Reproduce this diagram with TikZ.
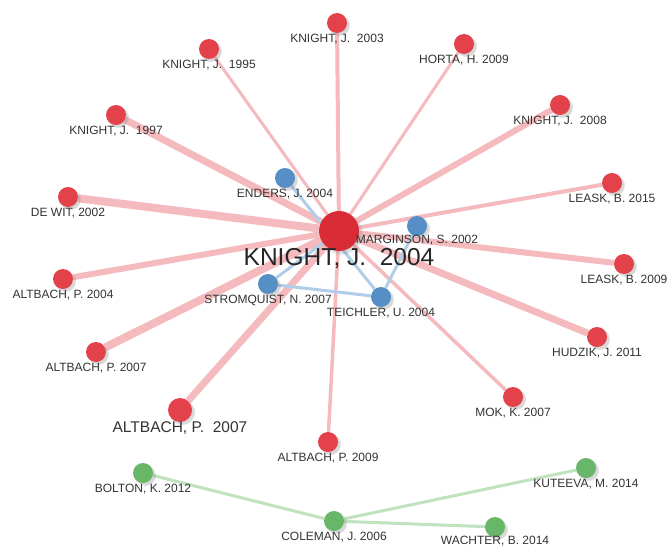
\documentclass[tikz,border=0pt]{standalone}
\usepackage{fontspec}
\setmainfont{Liberation Sans}
\usetikzlibrary{positioning,backgrounds,shadows}

\definecolor{citered}{RGB}{228,66,74}
\definecolor{citecore}{RGB}{218,44,54}
\definecolor{citeblue}{RGB}{86,142,198}
\definecolor{citegreen}{RGB}{104,182,104}
\definecolor{linkred}{RGB}{245,186,190}
\definecolor{linkblue}{RGB}{176,205,233}
\definecolor{linkgreen}{RGB}{190,227,190}

\begin{document}
\begin{tikzpicture}[
        x=1pt, y=-1pt,
        node distance=0pt,
        pub/.style={circle, minimum size=20pt, inner sep=0pt,
            circular drop shadow={shadow xshift=2pt, shadow yshift=-2pt, opacity=0.3}},
        redpub/.style={pub, fill=citered},
        bluepub/.style={pub, fill=citeblue},
        greenpub/.style={pub, fill=citegreen},
        lbl/.style={font=\fontsize{12}{13}\selectfont, text=black!80, inner sep=0.5pt},
        biglbl/.style={font=\fontsize{24.5}{26}\selectfont, text=black!85, inner sep=0.5pt},
        midlbl/.style={font=\fontsize{15.5}{17}\selectfont, text=black!80, inner sep=0.5pt},
        redlink/.style={draw=linkred, line width=#1},
        bluelink/.style={draw=linkblue, line width=3pt},
        greenlink/.style={draw=linkgreen, line width=3pt}
    ]
        \useasboundingbox (0,0) rectangle (668,548);

        % Central paper
        \node[redpub, fill=citecore, minimum size=40pt] (kn04) at (339,231) {};
        \node[biglbl, below=-4pt of kn04] (kn04l) {KNIGHT, J.~~2004};

        % Red cluster
        \node[redpub] (kn03) at (337,23) {};
        \node[lbl, below=of kn03] (kn03l) {KNIGHT, J.~~2003};
        \node[redpub] (kn95) at (209,49) {};
        \node[lbl, below=of kn95] (kn95l) {KNIGHT, J.~~1995};
        \node[redpub] (ho09) at (464,44) {};
        \node[lbl, below=of ho09] (ho09l) {HORTA, H. 2009};
        \node[redpub] (kn97) at (116,115) {};
        \node[lbl, below=of kn97] (kn97l) {KNIGHT, J.~~1997};
        \node[redpub] (kn08) at (560,105) {};
        \node[lbl, below=of kn08] (kn08l) {KNIGHT, J.~~2008};
        \node[redpub] (dw02) at (68,197) {};
        \node[lbl, below=of dw02] (dw02l) {DE WIT, 2002};
        \node[redpub] (le15) at (612,183) {};
        \node[lbl, below=of le15] (le15l) {LEASK, B. 2015};
        \node[redpub] (al04) at (63,279) {};
        \node[lbl, below=of al04] (al04l) {ALTBACH, P. 2004};
        \node[redpub] (le09) at (624,264) {};
        \node[lbl, below=of le09] (le09l) {LEASK, B. 2009};
        \node[redpub] (al07) at (96,352) {};
        \node[lbl, below=of al07] (al07l) {ALTBACH, P. 2007};
        \node[redpub] (hu11) at (597,337) {};
        \node[lbl, below=of hu11] (hu11l) {HUDZIK, J. 2011};
        \node[redpub] (mo07) at (513,397) {};
        \node[lbl, below=of mo07] (mo07l) {MOK, K. 2007};
        \node[redpub, minimum size=24pt] (ab07) at (180,410) {};
        \node[midlbl, below=-1pt of ab07] (ab07l) {ALTBACH, P.~~2007};
        \node[redpub] (al09) at (328,442) {};
        \node[lbl, below=of al09] (al09l) {ALTBACH, P. 2009};

        % Blue cluster
        \node[bluepub] (en04) at (285,178) {};
        \node[lbl, below=of en04] (en04l) {ENDERS, J. 2004};
        \node[bluepub] (ma02) at (417,226) {};
        \node[lbl, below=-2pt of ma02] (ma02l) {MARGINSON, S. 2002};
        \node[bluepub] (st07) at (268,284) {};
        \node[lbl, below=of st07] (st07l) {STROMQUIST, N. 2007};
        \node[bluepub] (te04) at (381,297) {};
        \node[lbl, below=of te04] (te04l) {TEICHLER, U. 2004};

        % Green cluster
        \node[greenpub] (bo12) at (143,473) {};
        \node[lbl, below=of bo12] (bo12l) {BOLTON, K. 2012};
        \node[greenpub] (ku14) at (586,468) {};
        \node[lbl, below=of ku14] (ku14l) {KUTEEVA, M. 2014};
        \node[greenpub] (co06) at (334,521) {};
        \node[lbl, below=of co06] (co06l) {COLEMAN, J. 2006};
        \node[greenpub] (wa14) at (495,527) {};
        \node[lbl, below=-2pt of wa14] (wa14l) {WACHTER, B. 2014};

        % Links
        \begin{scope}[on background layer]
            \fill[white] (0,0) rectangle (668,548);
            \draw[redlink=4pt] (kn04) -- (kn03);
            \draw[redlink=3pt] (kn04) -- (kn95);
            \draw[redlink=3pt] (kn04) -- (ho09);
            \draw[redlink=7pt] (kn04) -- (kn97);
            \draw[redlink=6pt] (kn04) -- (kn08);
            \draw[redlink=8pt] (kn04) -- (dw02);
            \draw[redlink=4pt] (kn04) -- (le15);
            \draw[redlink=6pt] (kn04) -- (al04);
            \draw[redlink=6pt] (kn04) -- (le09);
            \draw[redlink=8pt] (kn04) -- (al07);
            \draw[redlink=7pt] (kn04) -- (hu11);
            \draw[redlink=3.5pt] (kn04) -- (mo07);
            \draw[redlink=7pt] (kn04) -- (ab07);
            \draw[redlink=3.5pt] (kn04) -- (al09);
            \draw[bluelink] (en04) -- (te04);
            \draw[bluelink] (st07) -- (te04);
            \draw[bluelink] (ma02) -- (te04);
            \draw[bluelink] (st07) -- (kn04);
            \draw[greenlink] (bo12) -- (co06);
            \draw[greenlink] (co06) -- (ku14);
            \draw[greenlink] (co06) -- (wa14);
        \end{scope}
    \end{tikzpicture}
\end{document}
